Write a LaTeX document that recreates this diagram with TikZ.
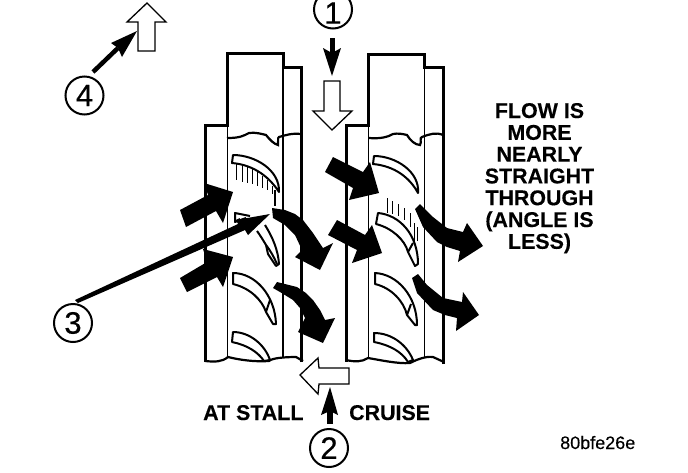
\documentclass[tikz,border=0pt]{standalone}
\usepackage{fontspec}
\setmainfont{Liberation Sans}
\newcommand{\lblfont}{\fontsize{21.4}{21.8}\selectfont\bfseries\addfontfeature{FakeBold=0.25}}
\newcommand{\digfont}{\fontsize{31}{31}\selectfont\addfontfeature{FakeBold=0.5}}
\begin{document}
\begin{tikzpicture}[x=1pt,y=-1pt,line join=miter,
  wall/.style={line width=3pt},
  thin wall/.style={line width=1.1pt},
  wave/.style={line width=2.2pt},
  blade/.style={line width=2pt,line join=round},
  hatch/.style={line width=1pt},
  flow/.style={fill=black,draw=none},
  hollow/.style={draw=black,line width=1.3pt,fill=white},
  callout/.style={circle,draw=black,line width=2pt,minimum size=38pt,inner sep=0pt,fill=white,font=\digfont},
  leader/.style={fill=black,draw=none},
  lbl/.style={font=\lblfont,inner sep=0pt,anchor=base west}]
\useasboundingbox (0,0) rectangle (688,472);
% left stator
\draw[wall] (301,362) -- (301,67) -- (283,67) -- (283,53) -- (227,53) -- (227,125) -- (205,125) -- (205,362);
\draw[thin wall] (283,67) -- (283,357);
\draw[thin wall] (227.5,125) -- (227.5,358);
\draw[wave] (227,138) .. controls (240,138) and (243,136) .. (249,133) .. controls (255,132) and (262,134) .. (266,135) .. controls (270,140) and (274,144) .. (278,145) .. controls (279,142) and (277,138) .. (279,137) .. controls (286,135) and (292,133) .. (301,134);
\draw[wave] (205,361) .. controls (215,362) and (222,362) .. (228,357) .. controls (240,360) and (255,362) .. (269,361) .. controls (272,358) and (285,357) .. (296,357) -- (303,361);
% right stator
\draw[wall] (443,364) -- (443,67) -- (424,67) -- (424,54) -- (368,54) -- (368,125) -- (346,125) -- (346,362);
\draw[thin wall] (424.5,67) -- (424.5,358);
\draw[thin wall] (368.5,125) -- (368.5,358);
\draw[wave] (369,138) .. controls (380,139) and (388,137) .. (393,134) .. controls (398,133) and (403,134) .. (407,135) .. controls (410,140) and (415,145) .. (420,145) .. controls (422,142) and (419,138) .. (422,137) .. controls (430,134) and (436,132) .. (443,135);
\draw[wave] (346,360) .. controls (355,362) and (362,362) .. (368,358) .. controls (380,360) and (398,364) .. (410,363) .. controls (416,360) and (425,356) .. (433,357) -- (444,362);
% left blades
\draw[blade] (233,155) .. controls (255,155) and (280,170) .. (279,192) .. controls (270,178) and (255,165) .. (232,163) -- cycle;
\foreach \x/\a/\b in {236/164/180,242/165/182,247/167/183,252/169/184,257/172/186,262/176/188,267/180/190,272/186/194}
  \draw[hatch] (\x,\a) -- (\x,\b);
\draw[line width=1.5pt] (275,190) -- (275,206);
\draw[blade] (250,216) -- (235,213) -- (235,222) -- (246,218);
\draw[blade] (240,219) -- (236,221);
\draw[blade] (265,225) .. controls (273,238) and (278,250) .. (279,264) -- (276,266) -- (268,254) -- (266,245) .. controls (263,240) and (260,235) .. (257,231);
\draw[blade] (266,245) .. controls (270,250) and (274,257) .. (277,264);
\draw[blade] (233,273) .. controls (255,273) and (275,295) .. (276,324) -- (273,324) -- (266,312) .. controls (262,300) and (250,288) .. (233,284) -- cycle;
\draw[blade] (270,300) -- (266,312);
\draw[blade] (233,332) .. controls (250,332) and (265,345) .. (270,360) -- (264,361) .. controls (258,352) and (247,345) .. (232,342) -- cycle;
% right blades
\draw[blade] (374,156) .. controls (396,156) and (420,172) .. (418,193) .. controls (410,178) and (395,166) .. (373,164) -- cycle;
\draw[blade] (378,213) .. controls (400,215) and (418,235) .. (418,264) -- (415,266) -- (408,252) .. controls (405,240) and (392,228) .. (376,224) -- cycle;
\draw[blade] (413,243) -- (408,252);
\foreach \x/\a/\b in {387/198/213,392/201/214,398/204/216,404/208/220,410/213/227,414/223/245,417/227/241}
  \draw[hatch] (\x,\a) -- (\x,\b);
\draw[blade] (375,273) .. controls (397,274) and (417,296) .. (417,325) -- (415,325) -- (407,315) .. controls (404,302) and (392,288) .. (375,284) -- cycle;
\draw[blade] (411,304) -- (407,315);
\draw[blade] (374,333) .. controls (392,333) and (407,345) .. (413,360) -- (408,362) .. controls (402,352) and (390,345) .. (374,342) -- cycle;
% flow arrows
\fill[flow] (180,210) -- (208,195) -- (204,183) -- (233,192) -- (223,223) -- (216,211) -- (186,227) -- cycle;
\fill[flow] (180,278) -- (207,262) -- (203,249) -- (233,257) -- (223,287) -- (217,277) -- (187,292) -- cycle;
\fill[flow] (272,208) -- (285,210) -- (295,214) -- (303,220) -- (313,233) -- (323,248) -- (333,243) -- (320,270) -- (295,257) -- (302,250) -- (295,235) -- (285,225) -- (273,218) -- cycle;
\fill[flow] (277,282) -- (297,287) -- (306,293) -- (313,300) -- (320,310) -- (325,320) -- (335,318) -- (323,343) -- (298,332) -- (305,318) -- (300,308) -- (293,300) -- (280,292) -- (273,288) -- cycle;
\fill[flow] (333,157) -- (363,172) -- (370,162) -- (379,193) -- (349,200) -- (353,188) -- (325,172) -- cycle;
\fill[flow] (337,220) -- (365,235) -- (372,225) -- (382,253) -- (352,263) -- (357,250) -- (328,235) -- cycle;
\fill[flow] (420,204) -- (433,217) -- (447,228) -- (463,232) -- (467,223) -- (483,246) -- (458,262) -- (460,251) -- (447,247) -- (437,242) -- (423,227) -- (415,209) -- cycle;
\fill[flow] (418,274) -- (427,285) -- (443,298) -- (462,302) -- (463,292) -- (479,315) -- (456,331) -- (457,318) -- (445,315) -- (433,310) -- (417,293) -- (412,278) -- cycle;
% hollow arrows
\filldraw[hollow] (147,3) -- (127,22) -- (138,22) -- (138,51) -- (155,51) -- (155,22) -- (166,22) -- cycle;
\filldraw[hollow] (324,81) -- (324,111) -- (313,111) -- (332,130) -- (352,111) -- (340,111) -- (340,81) -- cycle;
\filldraw[hollow] (300,375) -- (318,358) -- (319,368) -- (349,368) -- (349,384) -- (319,384) -- (318,394) -- cycle;
% callouts
\node[callout] (n1) at (333,9.5) {};
\node[font=\digfont,inner sep=0pt] (n1d) at (333,13) {1};
\node[callout] (n2) at (329,448) {2};
\node[callout] (n3) at (73,323) {3};
\node[callout] (n4) at (84.5,95.5) {4};
% leaders
\coordinate (t1) at (332,76);
\coordinate (t2) at (330,387);
\coordinate (t3) at (270,214);
\coordinate (t4) at (137,31);
\draw[line width=5pt] (332.5,38) -- (332.5,54);
\fill[leader] (t1) -- (323,48) -- (332,53) -- (341,48) -- cycle;
\draw[line width=6.5pt] (330,410) -- (330,424);
\fill[leader] (t2) -- (321,415) -- (330,411) -- (338,415) -- cycle;
\fill[leader] (75,300) -- (238,224) -- (236,220) -- (t3) -- (248,235) -- (245,230) -- (78,303) -- cycle;
\draw[line width=4.5pt] (93,72) -- (118,48);
\fill[leader] (t4) -- (111,43) -- (118,48) -- (122,57) -- cycle;
% labels
\node[lbl,anchor=base] (l1) at (539.5,118) {FLOW IS};
\node[lbl,anchor=base] (l2) at (539.5,139.8) {MORE};
\node[lbl,anchor=base] (l3) at (539.5,161.6) {NEARLY};
\node[lbl,anchor=base] (l4) at (539.5,183.4) {STRAIGHT};
\node[lbl,anchor=base] (l5) at (539.5,205.2) {THROUGH};
\node[lbl,anchor=base] (l6) at (539.5,227) {(ANGLE IS};
\node[lbl,anchor=base] (l7) at (539.5,248.8) {LESS)};
\node[lbl] (s) at (203,420) {AT STALL};
\node[lbl] (c) at (349,420) {CRUISE};
\node[font=\fontsize{18}{18}\selectfont\addfontfeature{FakeBold=0.3},inner sep=0pt,anchor=base west] (code) at (560,449) {80bfe26e};
\end{tikzpicture}
\end{document}
